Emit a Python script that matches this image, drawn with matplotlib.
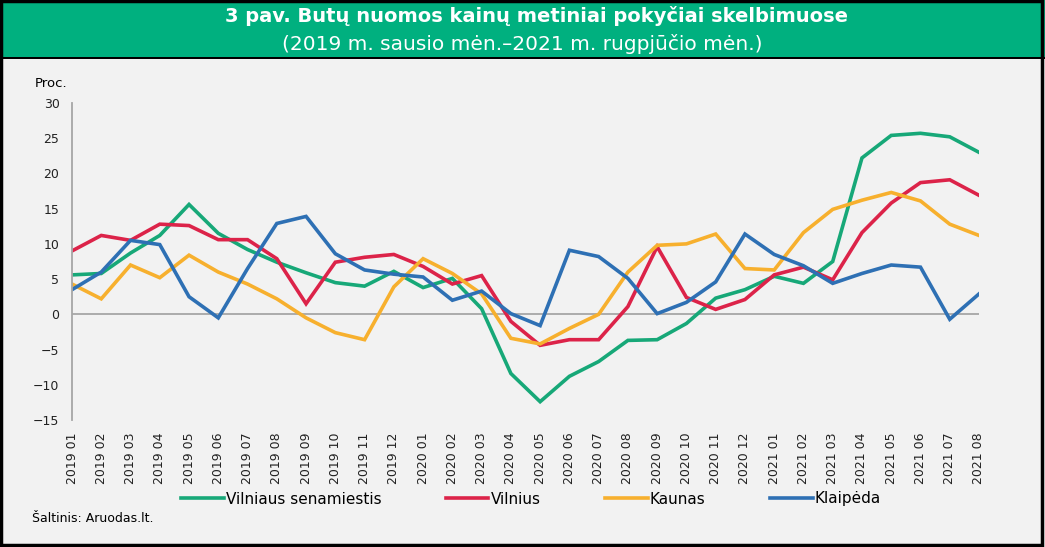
import matplotlib.pyplot as plt
from matplotlib.patches import Rectangle

# months 2019 01 .. 2021 08
months = [f"{y} {m:02d}" for y in (2019, 2020, 2021) for m in range(1, 13)][:32]

vilniaus_sen = [5.6, 5.8, 8.7, 11.2, 15.6, 11.5, 9.2, 7.4, 5.9, 4.5, 4.0, 6.1,
                3.8, 5.1, 0.8, -8.4, -12.4, -8.8, -6.7, -3.7, -3.6, -1.3, 2.3, 3.5,
                5.4, 4.4, 7.5, 22.2, 25.4, 25.7, 25.2, 23.0]
vilnius = [9.0, 11.2, 10.5, 12.8, 12.6, 10.6, 10.6, 7.9, 1.5, 7.4, 8.1, 8.5,
           6.8, 4.3, 5.5, -1.0, -4.4, -3.6, -3.6, 1.1, 9.6, 2.4, 0.7, 2.1,
           5.6, 6.7, 4.9, 11.6, 15.8, 18.7, 19.1, 16.9]
kaunas = [4.3, 2.2, 7.0, 5.2, 8.4, 6.0, 4.3, 2.2, -0.5, -2.6, -3.6, 3.9,
          7.9, 5.8, 2.9, -3.4, -4.2, -2.0, 0.0, 6.0, 9.8, 10.0, 11.4, 6.5,
          6.3, 11.6, 14.9, 16.2, 17.3, 16.1, 12.8, 11.2]
klaipeda = [3.5, 6.0, 10.5, 9.9, 2.5, -0.5, 6.5, 12.9, 13.9, 8.6, 6.3, 5.7,
            5.3, 2.0, 3.3, 0.1, -1.6, 9.1, 8.2, 5.1, 0.1, 1.7, 4.6, 11.4,
            8.5, 6.9, 4.4, 5.8, 7.0, 6.7, -0.7, 2.9]

series = [
    ("Vilniaus senamiestis", vilniaus_sen, "#17a878"),
    ("Vilnius", vilnius, "#dc2349"),
    ("Kaunas", kaunas, "#f7b02e"),
    ("Klaipėda", klaipeda, "#2e70b4"),
]

W, H = 1045, 547
fig = plt.figure(figsize=(W / 100, H / 100), dpi=100)
fig.patch.set_facecolor("#f2f2f2")

# header band and frame
fig.add_artist(Rectangle((0, 1 - 57 / H), 1, 57 / H, transform=fig.transFigure,
                         facecolor="#00b07f", edgecolor="none"))
fig.add_artist(Rectangle((0, 1 - 59 / H), 1, 2.5 / H, transform=fig.transFigure,
                         facecolor="black", edgecolor="none"))
fig.add_artist(Rectangle((0.001, 0.003), 0.996, 0.995, transform=fig.transFigure,
                         facecolor="none", edgecolor="black", linewidth=2.5))
fig.text(0.513, 1 - 16 / H, "3 pav. Butų nuomos kainų metiniai pokyčiai skelbimuose",
         ha="center", va="center", color="white", fontsize=14, fontweight="bold")
fig.text(0.5, 1 - 44 / H, "(2019 m. sausio mėn.–2021 m. rugpjūčio mėn.)",
         ha="center", va="center", color="white", fontsize=14.5)

ax = fig.add_axes([72 / W, 1 - 420 / H, (979 - 72) / W, (420 - 103) / H])
ax.set_facecolor("#f2f2f2")
x = list(range(len(months)))
for name, vals, col in series:
    ax.plot(x, vals, color=col, linewidth=2.6, label=name, solid_joinstyle="miter")

ax.axhline(0, color="#a6a6a6", linewidth=1.3, zorder=0)
ax.set_xlim(0, len(months) - 1)
ax.set_ylim(-15, 30)
ax.set_yticks(range(-15, 31, 5))
ax.set_yticklabels([str(v).replace("-", "\u2212") for v in range(-15, 31, 5)])
ax.set_xticks(x)
ax.set_xticklabels(months, rotation=90, va="top", ha="center")
for s in ("top", "right", "bottom"):
    ax.spines[s].set_visible(False)
ax.spines["left"].set_color("#a6a6a6")
ax.spines["left"].set_linewidth(1.3)
ax.tick_params(axis="y", length=0, pad=9, labelsize=9, colors="#222222")
ax.tick_params(axis="x", length=0, pad=9, labelsize=9, colors="#222222")

fig.text(35 / W, 1 - 83 / H, "Proc.", fontsize=9.5, va="center", ha="left")

fig.legend(loc="center", bbox_to_anchor=(531 / W, 1 - 499 / H), ncol=4,
           frameon=False, fontsize=11, handlelength=2.8, handletextpad=0.15,
           columnspacing=4.2)
fig.text(32 / W, 1 - 519 / H, "Šaltinis: Aruodas.lt.", fontsize=9, va="center")

fig.savefig("out.png", dpi=100, facecolor=fig.get_facecolor())
